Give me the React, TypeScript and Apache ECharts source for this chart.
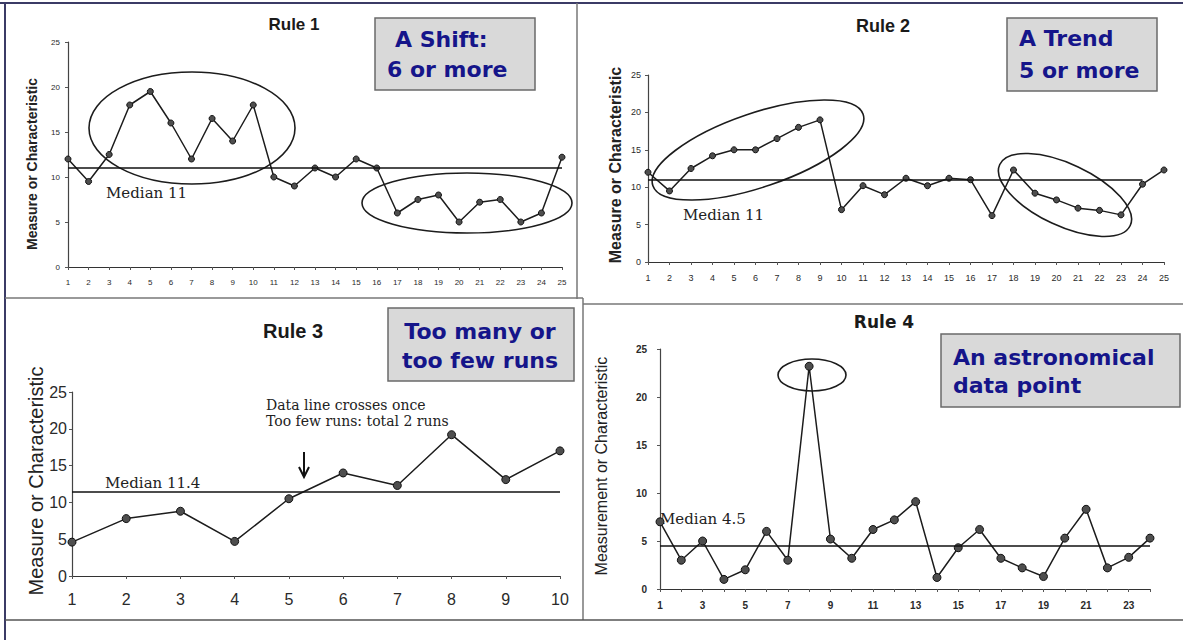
import React, { useEffect, useRef } from "react";
import * as echarts from "echarts";

// ---------- data ----------
const rule1Labels = ["1","2","3","4","5","6","7","8","9","10","11","12","13","14","15","16","17","18","19","20","21","22","23","24","25"];
const rule1Values = [12, 9.5, 12.5, 18, 19.5, 16, 12, 16.5, 14, 18, 10, 9, 11, 10, 12, 11, 6, 7.5, 8, 5, 7.2, 7.5, 5, 6, 12.2];
const rule1Median = 11;

const rule2Labels = ["1","2","3","4","5","6","7","8","9","10","11","12","13","14","15","16","17","18","19","20","21","22","23","24","25"];
const rule2Values = [12, 9.5, 12.5, 14.2, 15, 15, 16.5, 18, 19, 7, 10.2, 9, 11.2, 10.2, 11.2, 11, 6.2, 12.3, 9.2, 8.3, 7.2, 6.9, 6.3, 10.4, 12.3];
const rule2Median = 11;

const rule3Labels = ["1","2","3","4","5","6","7","8","9","10"];
const rule3Values = [4.6, 7.8, 8.8, 4.7, 10.5, 14, 12.3, 19.2, 13.1, 17];
const rule3Median = 11.4;

const rule4Labels = ["1","2","3","4","5","6","7","8","9","10","11","12","13","14","15","16","17","18","19","20","21","22","23","24"];
const rule4Values = [7, 3, 5, 1, 2, 6, 3, 23.2, 5.2, 3.2, 6.2, 7.2, 9.1, 1.2, 4.3, 6.2, 3.2, 2.2, 1.3, 5.3, 8.3, 2.2, 3.3, 5.3];
const rule4Median = 4.5;

const yMin = 0;
const yMax = 25;
const yStep = 5;

// ---------- styles ----------
const LINE = "#1c1c1c";
const NAVY = "#15158a";
const SANS = '"Liberation Sans", Arial, sans-serif';
const SERIF = '"DejaVu Serif", "Liberation Serif", serif';
const BOXFONT = 'bold 22px "DejaVu Sans", sans-serif';

function txt(text: string, x: number, y: number, font: string, fill = "#1a1a1a", align = "left", rotation = 0) {
  return {
    type: "text",
    x,
    y,
    rotation,
    style: {
      text,
      font,
      fill,
      align,
      verticalAlign: "middle",
      textAlign: align,
      textVerticalAlign: "middle",
    },
  };
}

function line(x1: number, y1: number, x2: number, y2: number, stroke = "#666", lineWidth = 1.5) {
  return { type: "line", shape: { x1, y1, x2, y2 }, style: { stroke, lineWidth } };
}

function ellipse(x: number, y: number, rx: number, ry: number, rotation = 0) {
  return {
    type: "ellipse",
    x,
    y,
    rotation,
    shape: { cx: 0, cy: 0, rx, ry },
    style: { fill: "none", stroke: LINE, lineWidth: 1.6 },
    z: 5,
  };
}

function box(x: number, y: number, w: number, h: number) {
  return {
    type: "rect",
    shape: { x, y, width: w, height: h },
    style: { fill: "#d9d9d9", stroke: "#6a6a6a", lineWidth: 1.5 },
  };
}

function makeX(gridIndex: number, data: string[], fontSize: number, margin: number, weight = "normal", interval: number = 0) {
  return {
    type: "category",
    gridIndex,
    data,
    boundaryGap: false,
    axisLine: { show: true, lineStyle: { color: "#333", width: 1.2 } },
    axisTick: { show: true, length: 3, interval: 0, lineStyle: { color: "#555" } },
    axisLabel: { fontSize, color: "#2a2a2a", margin, fontFamily: SANS, fontWeight: weight, interval },
    splitLine: { show: false },
  };
}

function makeY(gridIndex: number, fontSize: number, margin: number, weight = "normal") {
  return {
    type: "value",
    gridIndex,
    min: yMin,
    max: yMax,
    interval: yStep,
    axisLine: { show: true, lineStyle: { color: "#444", width: 1.2 } },
    axisTick: { show: true, length: 3, lineStyle: { color: "#555" } },
    axisLabel: { fontSize, color: "#2a2a2a", margin, fontFamily: SANS, fontWeight: weight },
    splitLine: { show: false },
  };
}

function makeSeries(i: number, values: number[], symbolSize: number, markData: any[]) {
  return {
    type: "line",
    xAxisIndex: i,
    yAxisIndex: i,
    data: values,
    symbol: "circle",
    symbolSize,
    lineStyle: { color: LINE, width: 1.5 },
    itemStyle: { color: "#4e4e4e", borderColor: "#111", borderWidth: 1 },
    z: 3,
    markLine: {
      silent: true,
      symbol: "none",
      label: { show: false },
      lineStyle: { color: "#111", type: "solid", width: 1.6 },
      data: markData,
    },
  };
}

function App() {
  const ref = useRef<HTMLDivElement>(null);

  useEffect(() => {
    if (!ref.current) return;
    const chart = echarts.init(ref.current, null, { renderer: "svg" });

    const option: any = {
      animation: false,
      backgroundColor: "#ffffff",
      grid: [
        { left: 68, top: 42, width: 494, height: 225 },
        { left: 648, top: 75, width: 516, height: 187 },
        { left: 72, top: 392, width: 488, height: 184 },
        { left: 660, top: 349, width: 490, height: 240 },
      ],
      xAxis: [
        makeX(0, rule1Labels, 8, 11),
        makeX(1, rule2Labels, 9, 11),
        makeX(2, rule3Labels, 16, 15),
        makeX(3, rule4Labels, 10, 11, "bold", 1),
      ],
      yAxis: [
        makeY(0, 8, 8),
        makeY(1, 9, 7),
        makeY(2, 16, 5),
        makeY(3, 10, 13, "bold"),
      ],
      series: [
        makeSeries(0, rule1Values, 6, [{ yAxis: rule1Median }]),
        makeSeries(1, rule2Values, 6, [[{ coord: [rule2Labels[0], rule2Median] }, { coord: [rule2Labels[23], rule2Median] }]]),
        makeSeries(2, rule3Values, 8, [{ yAxis: rule3Median }]),
        makeSeries(3, rule4Values, 8, [{ yAxis: rule4Median }]),
      ],
      graphic: [
        // panel frames
        line(0, 3, 1183, 3, "#3b3b66", 2),
        line(5, 3, 5, 640, "#3b3b66", 2),
        line(577, 3, 577, 299, "#777", 1.5),
        line(5, 298, 583, 298, "#777", 1.5),
        line(583, 298, 583, 620, "#777", 1.5),
        line(583, 304, 1183, 304, "#777", 1.5),
        line(5, 620, 1183, 620, "#555", 1.5),

        // titles
        txt("Rule 1", 294, 24, `bold 17px ${SANS}`, "#1a1a1a", "center"),
        txt("Rule 2", 883, 26, `bold 18px ${SANS}`, "#1a1a1a", "center"),
        txt("Rule 3", 293, 331, `bold 20px ${SANS}`, "#1a1a1a", "center"),
        txt("Rule 4", 884, 322, 'bold 17px "DejaVu Sans", sans-serif', "#1a1a1a", "center"),

        // y axis names
        txt("Measure or Characteristic", 32, 164, `bold 14px ${SANS}`, "#222", "center", Math.PI / 2),
        txt("Measure or Characteristic", 615, 165, `bold 16px ${SANS}`, "#222", "center", Math.PI / 2),
        txt("Measure or Characteristic", 36, 481, `20px ${SANS}`, "#222", "center", Math.PI / 2),
        txt("Measurement or Characteristic", 601, 466, `16px ${SANS}`, "#222", "center", Math.PI / 2),

        // callout boxes
        box(375, 18, 160, 72),
        txt("A Shift:", 395, 39, BOXFONT, NAVY),
        txt("6 or more", 387, 69, BOXFONT, NAVY),
        box(1007, 18, 150, 73),
        txt("A Trend", 1019, 38, BOXFONT, NAVY),
        txt("5 or more", 1019, 70, BOXFONT, NAVY),
        box(388, 308, 186, 73),
        txt("Too many or", 480, 331, BOXFONT, NAVY, "center"),
        txt("too few runs", 480, 360, BOXFONT, NAVY, "center"),
        box(941, 334, 239, 73),
        txt("An astronomical", 953, 357, BOXFONT, NAVY),
        txt("data point", 953, 385, BOXFONT, NAVY),

        // median labels
        txt("Median 11", 106, 193, `15px ${SERIF}`, "#222"),
        txt("Median 11", 683, 215, `15px ${SERIF}`, "#222"),
        txt("Median 11.4", 105, 483, `15px ${SERIF}`, "#222"),
        txt("Median 4.5", 660, 519, `15px ${SERIF}`, "#222"),

        // rule 3 annotation
        txt("Data line crosses once", 266, 405, `14px ${SERIF}`, "#222"),
        txt("Too few runs: total 2 runs", 266, 421, `14px ${SERIF}`, "#222"),
        line(304, 452, 304, 476, "#111", 2),
        {
          type: "polyline",
          shape: { points: [[299, 467], [304, 477], [309, 467]] },
          style: { stroke: "#111", lineWidth: 2, fill: "none" },
        },

        // ellipses
        ellipse(192, 128, 103, 56),
        ellipse(467, 203, 105, 30),
        ellipse(758, 150, 111, 37, 0.328),
        ellipse(1065, 195, 72, 31, -0.438),
        ellipse(812, 375, 34, 16),
      ],
    };

    chart.setOption(option);
    return () => chart.dispose();
  }, []);

  return (
    <div
      ref={ref}
      style={{ position: "fixed", left: 0, top: 0, width: 1183, height: 640, background: "#fff" }}
    />
  );
}

export default App;
